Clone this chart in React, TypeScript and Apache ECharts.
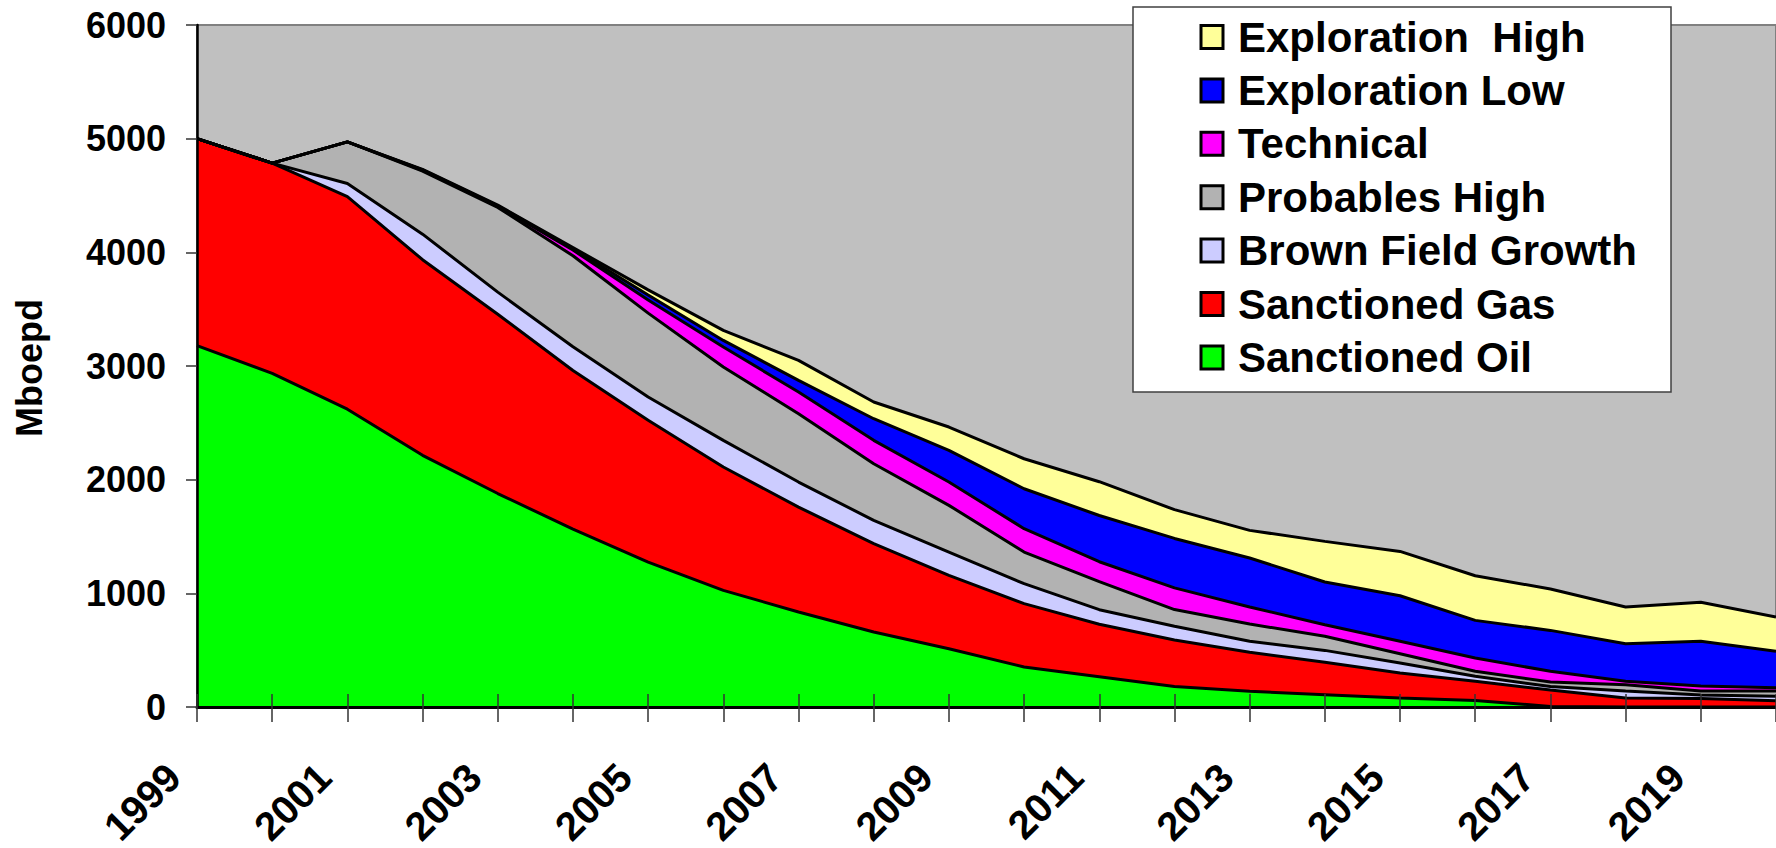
import React, { useEffect, useRef } from "react";
import * as echarts from "echarts";

const years = [
  "1999", "2000", "2001", "2002", "2003", "2004", "2005", "2006", "2007", "2008", "2009",
  "2010", "2011", "2012", "2013", "2014", "2015", "2016", "2017", "2018", "2019", "2020",
];

const sanctionedOil = [3180, 2935, 2620, 2214, 1878, 1565, 1275, 1026, 836, 660, 513, 352, 267, 180, 138, 108, 79, 58, 5, 0, 0, 0];
const sanctionedGas = [1820, 1850, 1870, 1721, 1577, 1395, 1247, 1085, 923, 777, 645, 557, 461, 410, 343, 285, 220, 168, 145, 80, 75, 55];
const brownFieldGrowth = [0, 0, 116, 225, 195, 210, 205, 235, 220, 205, 205, 176, 128, 120, 97, 105, 88, 44, 30, 60, 30, 40];
const probablesHigh = [0, 0, 366, 555, 745, 800, 738, 645, 601, 498, 411, 278, 247, 147, 152, 124, 82, 44, 40, 56, 35, 45];
const technical = [0, 0, 0, 7, 10, 50, 115, 176, 191, 206, 205, 206, 175, 191, 150, 102, 109, 117, 94, 30, 45, 30];
const explorationLow = [0, 0, 0, 4, 5, 12, 45, 58, 102, 190, 279, 351, 407, 435, 431, 376, 401, 331, 360, 331, 393, 320];
const explorationHigh = [0, 0, 0, 4, 5, 10, 45, 88, 176, 147, 205, 264, 297, 253, 243, 357, 390, 393, 364, 323, 343, 302];

const seriesNames = [
  "Sanctioned Oil",
  "Sanctioned Gas",
  "Brown Field Growth",
  "Probables High",
  "Technical",
  "Exploration Low",
  "Exploration  High",
];
const seriesColors = ["#00FF00", "#FF0000", "#CCCCFF", "#B2B2B2", "#FF00FF", "#0000FF", "#FFFF99"];
const seriesData = [
  sanctionedOil,
  sanctionedGas,
  brownFieldGrowth,
  probablesHigh,
  technical,
  explorationLow,
  explorationHigh,
];

const yAxisName = "Mboepd";
const FONT = "'Liberation Sans', Arial, Helvetica, sans-serif";

export default function App() {
  const ref = useRef<HTMLDivElement>(null);

  useEffect(() => {
    if (!ref.current) return;
    const chart = echarts.init(ref.current, undefined, { renderer: "svg" });

    const series = seriesNames.map((name, i) => ({
      name,
      type: "line",
      stack: "total",
      data: seriesData[i],
      symbol: "none",
      showSymbol: false,
      lineStyle: { color: "#000", width: 3 },
      itemStyle: { color: seriesColors[i] },
      areaStyle: { color: seriesColors[i], opacity: 1 },
      emphasis: { disabled: true },
      z: 2,
    }));

    chart.setOption({
      animation: false,
      grid: {
        left: 197,
        top: 25,
        right: 0,
        bottom: 141,
        containLabel: false,
        outerBoundsMode: "none",
        show: true,
        backgroundColor: "#C0C0C0",
        borderColor: "#808080",
        borderWidth: 2,
      },
      legend: {
        data: [...seriesNames].reverse(),
        orient: "vertical",
        left: 1199.5,
        top: 16,
        padding: 0,
        itemWidth: 22,
        itemHeight: 23,
        itemGap: 11.4,
        icon: "rect",
        selectedMode: false,
        itemStyle: { borderColor: "#000", borderWidth: 3 },
        textStyle: {
          fontSize: 42,
          fontWeight: "bold",
          fontFamily: FONT,
          color: "#000",
          padding: [0, 0, 0, 10],
        },
        z: 6,
      },
      xAxis: [
        {
          type: "category",
          data: years,
          boundaryGap: false,
          z: 10,
          axisLine: { show: true, lineStyle: { color: "#000", width: 3 } },
          axisTick: { show: true, interval: 0, length: 15, lineStyle: { color: "#333", width: 1.5 } },
          axisLabel: {
            interval: 1,
            rotate: 45,
            margin: 40,
            color: "#000",
            formatter: (v: string) => `{t|${v}}{sp| }`,
            rich: {
              t: { fontSize: 40, fontWeight: "bold", fontFamily: FONT, color: "#000" },
              sp: { width: 33, fontSize: 40 },
            },
          },
          splitLine: { show: false },
        },
        {
          type: "category",
          data: years,
          boundaryGap: false,
          position: "bottom",
          z: 10,
          axisLine: { show: false },
          axisTick: { show: true, inside: true, interval: 0, length: 13, lineStyle: { color: "#333", width: 1.5 } },
          axisLabel: { show: false },
          splitLine: { show: false },
        },
      ],
      yAxis: {
        type: "value",
        min: 0,
        max: 6000,
        interval: 1000,
        z: 10,
        axisLine: { show: true, lineStyle: { color: "#000", width: 2.5 } },
        axisTick: { show: true, length: 11, lineStyle: { color: "#333", width: 1.5 } },
        axisLabel: {
          margin: 31,
          fontSize: 36,
          fontWeight: "bold",
          fontFamily: FONT,
          color: "#000",
          formatter: (v: number) => String(v),
        },
        splitLine: { show: false },
      },
      graphic: [
        {
          type: "rect",
          z: 5,
          shape: { x: 1133, y: 7, width: 538, height: 385 },
          style: { fill: "#FFFFFF", stroke: "#404040", lineWidth: 1.5 },
        },
        {
          type: "text",
          z: 5,
          x: 29,
          y: 368,
          rotation: Math.PI / 2,
          style: {
            text: yAxisName,
            fontSize: 36,
            fontWeight: "bold",
            fontFamily: FONT,
            fill: "#000",
            align: "center",
            verticalAlign: "middle",
          },
        },
      ],
      series,
    });

    return () => chart.dispose();
  }, []);

  return (
    <div
      ref={ref}
      style={{ position: "fixed", left: 0, top: 0, width: 1776, height: 848, background: "#fff" }}
    />
  );
}
